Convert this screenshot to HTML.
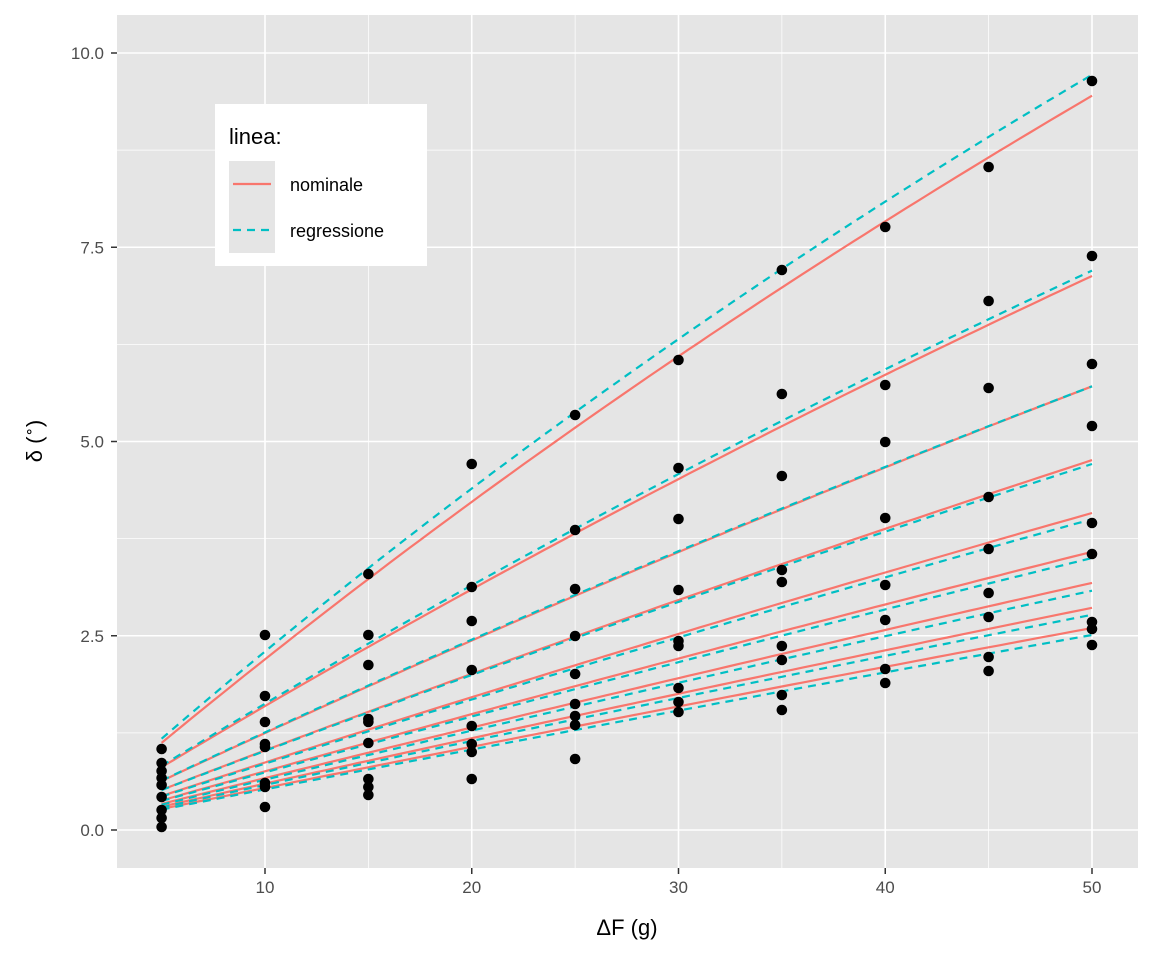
<!DOCTYPE html>
<html><head><meta charset="utf-8"><style>
body{margin:0;background:#fff}
svg{display:block;font-family:"Liberation Sans",Arial,sans-serif}
</style></head><body>
<svg id="s" width="1152" height="960" xmlns="http://www.w3.org/2000/svg"></svg>
<script>
const s=document.getElementById('s');
const X=v=>265+(v-10)*20.675, Y=v=>830-v*77.7;
let h='';
h+='<rect x="117" y="15" width="1021" height="853" fill="#e5e5e5"/>';
[1.25,3.75,6.25,8.75].forEach(v=>h+=`<line x1="117" x2="1138" y1="${Y(v)}" y2="${Y(v)}" stroke="#fff" stroke-width="0.7"/>`);
[15,25,35,45].forEach(v=>h+=`<line y1="15" y2="868" x1="${X(v)}" x2="${X(v)}" stroke="#fff" stroke-width="0.7"/>`);
[0,2.5,5,7.5,10].forEach(v=>{h+=`<line x1="117" x2="1138" y1="${Y(v)}" y2="${Y(v)}" stroke="#fff" stroke-width="1.6"/>`;
 h+=`<line x1="111" x2="117" y1="${Y(v)}" y2="${Y(v)}" stroke="#333" stroke-width="1.5"/>`;
 h+=`<text x="104" y="${Y(v)+6}" text-anchor="end" font-size="17" fill="#4d4d4d">${v.toFixed(1)}</text>`;});
[10,20,30,40,50].forEach(v=>{h+=`<line y1="15" y2="868" x1="${X(v)}" x2="${X(v)}" stroke="#fff" stroke-width="1.6"/>`;
 h+=`<line y1="868" y2="874" x1="${X(v)}" x2="${X(v)}" stroke="#333" stroke-width="1.5"/>`;
 h+=`<text x="${X(v)}" y="893" text-anchor="middle" font-size="17" fill="#4d4d4d">${v}</text>`;});
function curve(E,k,col,dash){const A=E/(50-50*k*E),B=k*A;let p='';for(let x=5;x<=50.001;x+=0.5){const y=A*x/(1+B*x);p+=(p?'L':'M')+X(x).toFixed(1)+','+Y(y).toFixed(1);}
 return `<path d="${p}" fill="none" stroke="${col}" stroke-width="2.2" ${dash?'stroke-dasharray="8,6"':''}/>`;}
[9.45,7.13,5.71,4.76,4.08,3.58,3.18,2.86,2.60].forEach(e=>h+=curve(e,0.0185,'#f8766d',0));
[9.72,7.2,5.71,4.71,4.0,3.5,3.08,2.77,2.51].forEach(e=>h+=curve(e,0.0198,'#00bfc4',1));
const pts={5:[749,763,771,778,785,797,810,818,827],10:[635,696,722,744,747,783,787,807],15:[574,635,665,719,722,743,779,787,795],
20:[464,587,621,670,726,744,752,779],25:[415,530,589,636,674,704,716,725,759],30:[360,468,519,590,641,646,688,702,712],
35:[270,394,476,570,582,646,660,695,710],40:[227,385,442,518,585,620,669,683],45:[167,301,388,497,549,593,617,657,671],
50:[81,256,364,426,523,554,622,629,645]};
for(const k in pts)pts[k].forEach(y=>h+=`<circle cx="${X(+k)}" cy="${y}" r="5.3" fill="#000"/>`);
h+='<rect x="215" y="104" width="212" height="162" fill="#fff"/>';
h+='<text x="229" y="144" font-size="22" fill="#000">linea:</text>';
h+='<rect x="229" y="161" width="46" height="46" fill="#e5e5e5"/><rect x="229" y="207" width="46" height="46" fill="#e5e5e5"/>';
h+='<line x1="233" x2="271" y1="184" y2="184" stroke="#f8766d" stroke-width="2.2"/>';
h+='<line x1="233" x2="271" y1="230" y2="230" stroke="#00bfc4" stroke-width="2.2" stroke-dasharray="8,6"/>';
h+='<text x="290" y="191" font-size="18">nominale</text><text x="290" y="237" font-size="18">regressione</text>';
h+='<text x="627" y="935" text-anchor="middle" font-size="22">ΔF (g)</text>';
h+='<text transform="translate(42,441) rotate(-90)" text-anchor="middle" font-size="22">δ (<tspan dy="-8" font-size="15">∘</tspan><tspan dy="8">)</tspan></text>';
s.innerHTML=h;
</script>
</body></html>
